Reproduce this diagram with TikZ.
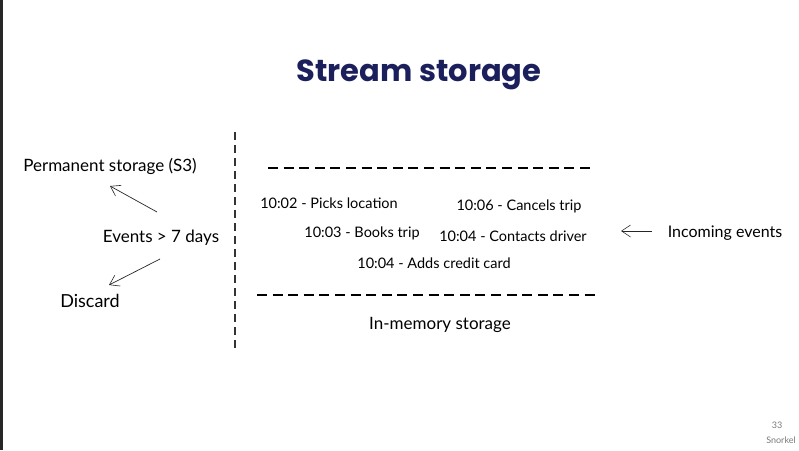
\documentclass[tikz,border=0pt]{standalone}
\usepackage{fontspec}
\setmainfont{Lato}
\newfontfamily\titlefont{Poppins}
\usetikzlibrary{arrows.meta}
\definecolor{navy}{HTML}{1B1F5C}
\definecolor{pagegray}{HTML}{7A7A7A}
\tikzset{
  hand/.style={font=\fontsize{17}{19}\selectfont, text=black, inner sep=0pt, anchor=center},
  evt/.style={font=\fontsize{14.5}{17}\selectfont, text=black, inner sep=0pt, anchor=center},
  thickdash/.style={line width=2.8pt, dash pattern=on 10pt off 5.6pt, black},
  thindash/.style={line width=1.2pt, dash pattern=on 8pt off 5pt, black!80},
  sketcharrow/.style={-{Straight Barb[length=9pt,width=12pt,line width=0.6pt]}, line width=0.7pt, black!85}
}
\begin{document}
\begin{tikzpicture}[x=1pt,y=-1pt]
\useasboundingbox (0,0) rectangle (799,450);
\fill[white] (0,0) rectangle (799,450);
\fill[black!85] (0,0) rectangle (2.5,450);

\node[font=\titlefont\bfseries\fontsize{30.5}{36}\selectfont, text=navy] (title) at (419,75) {Stream storage};

% dividers
\coordinate (vtop) at (235,132);
\coordinate (vbot) at (235,350);
\draw[thindash] (vtop) -- (vbot);
\coordinate (t1) at (268,168);
\coordinate (t2) at (593,168);
\draw[thickdash] (t1) -- (t2);
\coordinate (b1) at (257,295);
\coordinate (b2) at (596,295);
\draw[thickdash] (b1) -- (b2);

% left side
\node[hand] (perm) at (110,166) {Permanent storage (S3)};
\node[hand] (events) at (161,238) {Events > 7 days};
\node[hand, font=\fontsize{18}{20}\selectfont] (discard) at (90,301) {Discard};
\coordinate (a1s) at (157,212);
\coordinate (a1e) at (110,186);
\draw[sketcharrow] (a1s) -- (a1e);
\coordinate (a2s) at (160,259);
\coordinate (a2e) at (109,285);
\draw[sketcharrow] (a2s) -- (a2e);

% events in memory
\node[evt] (e1) at (329,203) {10:02 - Picks location};
\node[evt] (e2) at (519,206) {10:06 - Cancels trip};
\node[evt] (e3) at (362,233) {10:03 - Books trip};
\node[evt] (e4) at (513,236) {10:04 - Contacts driver};
\node[evt] (e5) at (434,263) {10:04 - Adds credit card};
\node[hand] (mem) at (440,325) {In-memory storage};

% incoming
\node[hand, font=\fontsize{16}{18}\selectfont] (inc) at (725,233) {Incoming events};
\coordinate (a3s) at (652,231);
\coordinate (a3e) at (621,231);
\draw[sketcharrow] (a3s) -- (a3e);

% page footer
\node[font=\fontsize{9}{10}\selectfont, text=pagegray, inner sep=0pt] (pnum) at (777,425) {33};
\node[font=\fontsize{9}{10}\selectfont, text=pagegray, inner sep=0pt] (brand) at (781,440) {Snorkel};
\end{tikzpicture}
\end{document}
